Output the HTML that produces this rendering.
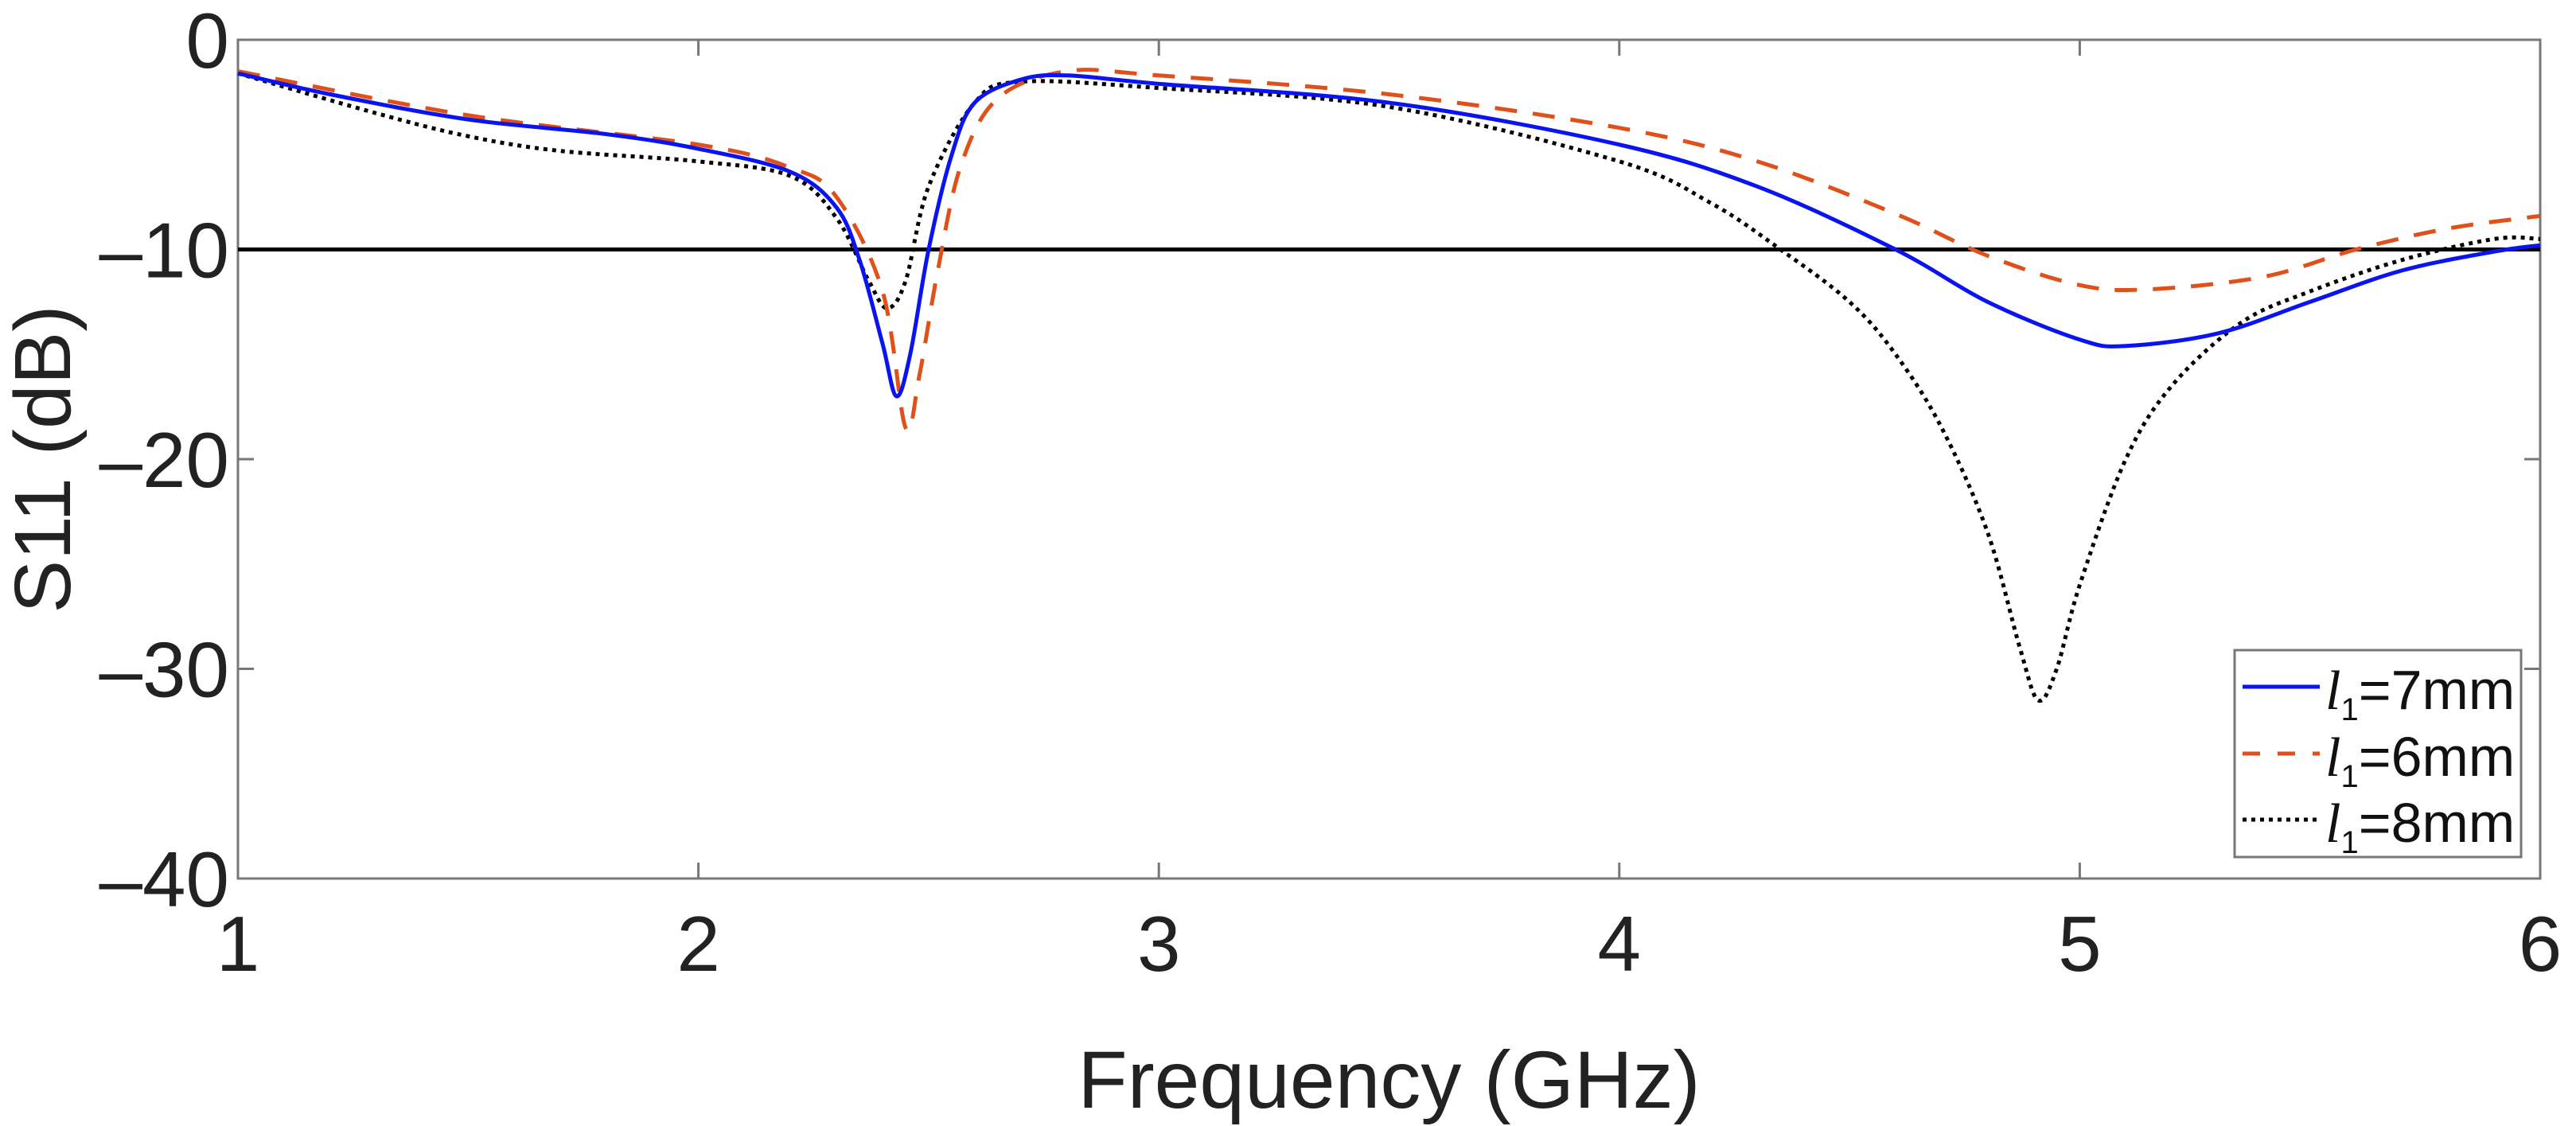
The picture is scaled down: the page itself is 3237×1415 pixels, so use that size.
<!DOCTYPE html>
<html><head><meta charset="utf-8"><style>
html,body{margin:0;padding:0;background:#fff;}
svg{display:block;font-family:"Liberation Sans",Arial,sans-serif;}
</style></head><body>
<svg id="chart" width="3237" height="1415" viewBox="0 0 3237 1415">
<g id="marks"></g>
</svg>
<script>
const xTicks=[1,2,3,4,5,6];
const yTicks=[0,-10,-20,-30,-40];
const freq7=[1,1.2,1.5,1.8,2.0,2.2,2.3,2.35,2.4,2.43,2.46,2.5,2.55,2.6,2.7,2.8,3.0,3.5,4.0,4.3,4.6,4.8,5.0,5.1,5.3,5.5,5.7,5.9,6];
const s11_7=[-1.6,-2.6,-3.8,-4.5,-5.2,-6.3,-8,-10.5,-14.5,-17,-15,-10,-5.5,-3,-1.9,-1.7,-2.1,-3.0,-5,-7,-10,-12.5,-14.3,-14.6,-14,-12.5,-11,-10.1,-9.8];
const freq6=[1,1.5,2,2.2,2.3,2.4,2.45,2.48,2.52,2.57,2.65,2.8,3.0,3.5,4,4.3,4.6,4.8,5.0,5.15,5.4,5.6,5.8,6];
const s11_6=[-1.5,-3.6,-5,-6.1,-7.5,-12,-18.5,-16,-11,-6,-2.8,-1.5,-1.7,-2.6,-4.2,-5.8,-8.3,-10.3,-11.7,-11.9,-11.3,-10,-9,-8.4];
const freq8=[1,1.3,1.5,1.7,2.0,2.2,2.3,2.37,2.41,2.45,2.5,2.6,2.7,3,3.5,4,4.2,4.35,4.5,4.6,4.7,4.8,4.87,4.91,4.95,5.0,5.1,5.2,5.35,5.5,5.7,5.9,6];
const s11_8=[-1.6,-3.5,-4.6,-5.3,-5.8,-6.5,-8.5,-11.5,-12.8,-11.5,-7,-3,-2.0,-2.3,-3.2,-5.8,-7.8,-10,-12.5,-15,-18.5,-23.5,-29,-31.5,-30,-26,-20,-16.5,-13.5,-12,-10.5,-9.5,-9.5];
const refLevel=[-10];

const L=299,R=3192,T=50,B=1104;
const X=v=>L+(v-1)/(6-1)*(R-L);
const Y=v=>T+(0-v)/(0+40)*(B-T);
const NS='http://www.w3.org/2000/svg';
const g=document.getElementById('marks');
function mk(tag,attrs,parent){const e=document.createElementNS(NS,tag);for(const k in attrs)e.setAttribute(k,attrs[k]);(parent||g).appendChild(e);return e;}
function smooth(xs,ys){
  const p=xs.map((x,i)=>[X(x),Y(ys[i])]);
  let d='M'+p[0][0]+','+p[0][1];
  for(let i=0;i<p.length-1;i++){
    const p0=p[i-1]||p[i],p1=p[i],p2=p[i+1],p3=p[i+2]||p2;
    const c1=[p1[0]+(p2[0]-p0[0])/6,p1[1]+(p2[1]-p0[1])/6];
    const c2=[p2[0]-(p3[0]-p1[0])/6,p2[1]-(p3[1]-p1[1])/6];
    d+=' C'+c1[0]+','+c1[1]+' '+c2[0]+','+c2[1]+' '+p2[0]+','+p2[1];
  }
  return d;
}
let e=mk('rect',{x:L,y:T,width:R-L,height:B-T,fill:'none',stroke:'#777','stroke-width':3});


xTicks.forEach(t=>{
  let l=mk('line',{x1:X(t),x2:X(t),y1:B,y2:B-20,stroke:'#777','stroke-width':3});
  
  
  let l2=mk('line',{x1:X(t),x2:X(t),y1:T,y2:T+20,stroke:'#777','stroke-width':3});
  
  
  let tx=mk('text',{x:X(t),y:1220,'font-size':98,'text-anchor':'middle',fill:'#222'});
  tx.textContent=t;
  
  
});
yTicks.forEach(t=>{
  let l=mk('line',{x1:L,x2:L+20,y1:Y(t),y2:Y(t),stroke:'#777','stroke-width':3});
  
  
  let l2=mk('line',{x1:R,x2:R-20,y1:Y(t),y2:Y(t),stroke:'#777','stroke-width':3});
  
  
  let tx=mk('text',{x:288,y:Y(t)+35,'font-size':98,'text-anchor':'end',fill:'#222'});
  tx.textContent=t===0?'0':'\u2013'+Math.abs(t);
  
  
});
let yl=mk('text',{x:0,y:0,'font-size':100,'text-anchor':'middle',fill:'#222',transform:'translate(88,'+((T+B)/2)+') rotate(-90)'});
yl.textContent='S11 (dB)';


let xl=mk('text',{x:(L+R)/2,y:1392,'font-size':102,'text-anchor':'middle',fill:'#222'});
xl.textContent='Frequency (GHz)';


let rl=mk('line',{x1:L,x2:R,y1:Y(refLevel[0]),y2:Y(refLevel[0]),stroke:'#000','stroke-width':5});


let s8=mk('path',{d:smooth(freq8,s11_8),fill:'none',stroke:'#000','stroke-width':5,'stroke-dasharray':'5 6'});


let s6=mk('path',{d:smooth(freq6,s11_6),fill:'none',stroke:'#e0501a','stroke-width':5,'stroke-dasharray':'28 20'});


let s7=mk('path',{d:smooth(freq7,s11_7),fill:'none',stroke:'#0a14f0','stroke-width':5});


const lg=mk('g',{});


mk('rect',{x:2808,y:817,width:360,height:260,fill:'#fff',stroke:'#777','stroke-width':3},lg);
const entries=[['7mm','#0a14f0','none',863],['6mm','#e0501a','22 22',947],['8mm','#000','5 6',1030]];
entries.forEach(en=>{
  let ln=mk('line',{x1:2818,x2:2915,y1:en[3],y2:en[3],stroke:en[1],'stroke-width':5,'stroke-dasharray':en[2]},lg);
  
  
  let t=mk('text',{x:2922,y:en[3]+28,'font-size':70,fill:'#111'},lg);
  t.innerHTML='<tspan font-family="Liberation Serif,serif" font-style="italic">l</tspan><tspan font-size="40" dy="14">1</tspan><tspan dy="-14">='+en[0]+'</tspan>';
  
  
});
</script>
</body></html>
